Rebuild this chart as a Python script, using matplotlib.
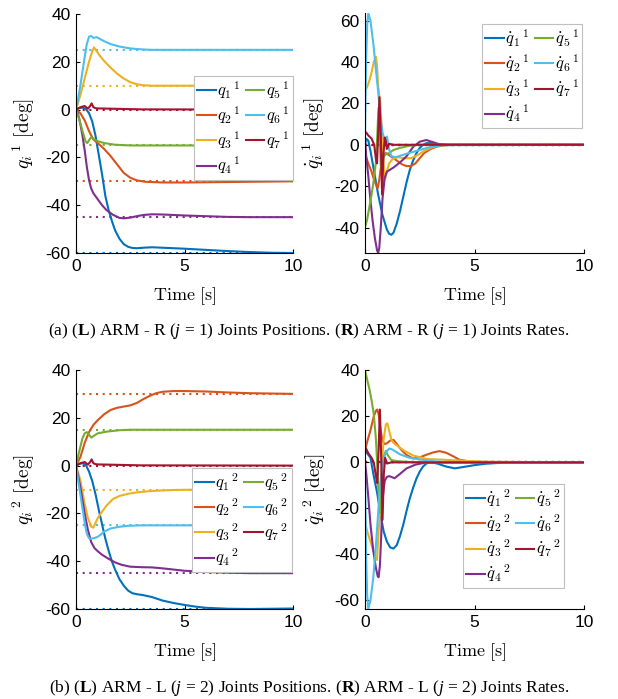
import numpy as np
import matplotlib
matplotlib.use("Agg")
import matplotlib.pyplot as plt
from matplotlib.font_manager import FontProperties

plt.rcParams['font.family'] = 'Liberation Sans'
plt.rcParams['mathtext.fontset'] = 'cm'
plt.rcParams['mathtext.rm'] = 'Liberation Serif'
plt.rcParams['mathtext.it'] = 'Liberation Serif:italic'
plt.rcParams['mathtext.bf'] = 'Liberation Serif:bold'
plt.rcParams['axes.unicode_minus'] = False

# MATLAB default line colours, joints 1..7
colors = ['#0072BD', '#D95319', '#EDB120', '#7E2F8E', '#77AC30', '#4DBEEE', '#A2142F']

# ---------------------------------------------------------------- ARM-R positions [deg]
tq1_R = [0, 0.15, 0.3, 0.45, 0.6, 0.75, 0.9, 1.05, 1.2, 1.35, 1.5, 1.65, 1.8, 2.0, 2.2, 2.4, 2.6, 2.8, 3.1, 3.5, 4, 5, 6, 7, 8, 9, 10]
q1_R = [0, 0.6, 0.8, 0.3, -1.5, -5, -11, -19, -27, -36, -42, -46.5, -50.5, -54, -56.3, -57.4, -57.9, -58, -57.8, -57.6, -57.8, -58.2, -58.7, -59.2, -59.6, -59.9, -60]
tq2_R = [0, 0.2, 0.4, 0.6, 0.8, 1.0, 1.3, 1.6, 1.9, 2.2, 2.5, 2.8, 3.2, 4, 5, 6, 8, 10]
q2_R = [0, -1.5, -4.5, -9, -12.5, -14, -16.5, -19.5, -23, -26.5, -28.5, -29.6, -30.2, -30.5, -30.5, -30.4, -30.2, -30]
tq3_R = [0, 0.2, 0.4, 0.6, 0.75, 0.83, 0.95, 1.1, 1.3, 1.6, 1.9, 2.2, 2.5, 2.8, 3.1, 3.5, 4, 10]
q3_R = [0, 6, 13, 20, 24.5, 26, 24.5, 22.5, 20.3, 17.5, 15, 13, 11.5, 10.6, 10.2, 10, 10, 10]
tq4_R = [0, 0.1, 0.2, 0.3, 0.4, 0.5, 0.6, 0.7, 0.8, 1.0, 1.2, 1.4, 1.7, 2.0, 2.2, 2.5, 2.8, 3.1, 3.5, 4, 5, 6, 7, 8, 10]
q4_R = [0, -2, -6, -11, -17, -24, -29.5, -33, -35, -37.5, -40, -42, -44, -45.3, -45.5, -45.2, -44.6, -44.1, -43.8, -43.9, -44.3, -44.6, -44.9, -45, -45]
tq5_R = [0, 0.15, 0.3, 0.45, 0.52, 0.6, 0.7, 0.85, 1.0, 1.3, 1.8, 2.5, 10]
q5_R = [0, -4, -9, -13.5, -14, -12.8, -11.5, -12.5, -13.2, -14, -14.7, -15, -15]
tq6_R = [0, 0.1, 0.2, 0.3, 0.4, 0.5, 0.6, 0.7, 0.8, 0.95, 1.1, 1.3, 1.6, 2.0, 2.5, 3.0, 3.5, 10]
q6_R = [0, 4.5, 10, 16, 22, 27.5, 30.5, 30.8, 30, 30.3, 29.6, 28.6, 27.4, 26.4, 25.6, 25.2, 25, 25]
tq7_R = [0, 0.2, 0.4, 0.55, 0.65, 0.72, 0.8, 0.9, 1.0, 1.5, 2, 3, 10]
q7_R = [0, 1, 1.5, 0.4, 1.5, 2.6, 1.0, 0.6, 0.5, 0.4, 0.3, 0.1, 0]
ref_R = [-60, -30, 10, -45, -15, 25, 0]

# ---------------------------------------------------------------- ARM-R rates [deg/s]
tdq1_R = [0, 0.05, 0.15, 0.25, 0.4, 0.6, 0.8, 1.0, 1.1, 1.2, 1.3, 1.45, 1.6, 1.75, 1.9, 2.05, 2.2, 2.35, 2.5, 2.65, 2.8, 3.0, 3.3, 3.7, 4.5, 10]
dq1_R = [0, 3, 2, -3, -12, -24, -34, -41, -43, -43.5, -42.5, -38, -32, -25, -18, -12, -7.5, -4, -1.5, 0, 0.8, 0.8, 0.4, 0.1, 0, 0]
tdq2_R = [0, 0.05, 0.15, 0.3, 0.45, 0.58, 0.65, 0.75, 0.85, 0.95, 1.1, 1.3, 1.5, 1.7, 1.9, 2.1, 2.3, 2.5, 2.7, 3.0, 3.3, 3.7, 4.2, 10]
dq2_R = [0, -6, -9, -13, -18, -21, -17, -9, -5, -4, -5, -6.5, -8, -9.5, -10.3, -10.3, -9, -6.5, -4, -2, -0.8, -0.2, 0, 0]
tdq3_R = [0, 0.1, 0.2, 0.3, 0.4, 0.5, 0.55, 0.6, 0.65, 0.7, 0.75, 0.8, 0.85, 0.92, 1.0, 1.1, 1.25, 1.5, 1.8, 2.1, 2.4, 2.7, 3.0, 3.3, 3.7, 10]
dq3_R = [26, 28, 31, 35, 40, 42.5, 38, 28, 24, 20, 10, 0, -9, -16.5, -13, -9, -7, -6, -6.5, -6.5, -5, -3, -1.5, -0.5, 0, 0]
tdq4_R = [0, 0.05, 0.15, 0.25, 0.35, 0.45, 0.55, 0.6, 0.65, 0.72, 0.8, 0.9, 1.0, 1.15, 1.3, 1.6, 1.9, 2.2, 2.5, 2.8, 3.1, 3.4, 3.8, 10]
dq4_R = [2, -5, -15, -27, -37, -45, -51, -52.3, -50, -40, -26, -16, -13, -12, -11, -8.5, -5.5, -1, 1.5, 2.3, 1.3, 0.2, 0, 0]
tdq5_R = [0, 0.1, 0.2, 0.3, 0.4, 0.5, 0.55, 0.6, 0.63, 0.67, 0.72, 0.78, 0.85, 0.95, 1.1, 1.3, 1.6, 2.0, 2.5, 10]
dq5_R = [-40, -36, -30, -24, -17, -8, 2, 14, 18, 6, -10, -12, -6, -4.5, -4, -2.5, -1.5, -0.5, 0, 0]
tdq6_R = [0, 0.05, 0.1, 0.15, 0.25, 0.4, 0.5, 0.6, 0.7, 0.8, 0.9, 1.0, 1.1, 1.2, 1.4, 1.7, 2.0, 2.5, 3.0, 3.5, 10]
dq6_R = [5, 40, 58, 63.6, 60, 47, 36, 26, 14, 6, 2, 4, -2, -5.5, -6, -5, -4, -2.5, -1, -0.2, 0]
tdq7_R = [0, 0.05, 0.15, 0.3, 0.42, 0.5, 0.55, 0.6, 0.66, 0.72, 0.78, 0.84, 0.9, 0.95, 1.0, 1.1, 1.3, 10]
dq7_R = [5.5, 6, 4.5, 3, 0, -7, -9, 5, 23, 5, -24, -5, 3.5, 2, -2, 0.5, 0, 0]

# ---------------------------------------------------------------- ARM-L positions [deg]
tq1_L = [0, 0.15, 0.3, 0.45, 0.6, 0.75, 0.9, 1.05, 1.2, 1.35, 1.5, 1.65, 1.8, 2.0, 2.2, 2.4, 2.6, 2.8, 3.1, 3.5, 4.0, 4.5, 5, 5.5, 6, 7, 8, 10]
q1_L = [0, 0.7, 1, 0.3, -2.5, -6.5, -12, -18.5, -24.5, -30.5, -35.5, -40, -43.5, -47.5, -50.2, -52.3, -53.4, -53.8, -54.2, -55, -56.5, -57.5, -58.3, -59, -59.5, -59.9, -60, -59.8]
tq2_L = [0, 0.2, 0.4, 0.6, 0.8, 1.0, 1.3, 1.6, 1.9, 2.2, 2.5, 2.8, 3.1, 3.4, 3.7, 4.0, 4.5, 5, 6, 7, 8, 10]
q2_L = [0, 3.5, 9.5, 14, 17, 19, 21.5, 23.3, 24.2, 24.7, 25.2, 26.2, 27.8, 29.2, 30.3, 30.9, 31.2, 31.2, 31, 30.6, 30.3, 30]
tq3_L = [0, 0.2, 0.4, 0.55, 0.7, 0.8, 0.9, 1.0, 1.2, 1.4, 1.7, 2.0, 2.4, 2.8, 3.5, 4.5, 6, 10]
q3_L = [0, -6, -16, -22, -25.5, -26, -24, -22, -19.3, -16.8, -14, -12.7, -11.8, -11.2, -10.6, -10.2, -10, -10]
tq4_L = [0, 0.2, 0.4, 0.55, 0.7, 0.85, 1.0, 1.2, 1.5, 1.8, 2.1, 2.5, 3.0, 3.5, 4.0, 4.5, 5, 6, 7, 8, 10]
q4_L = [0, -9, -20, -27, -32, -34.5, -35.8, -37.3, -39, -40.5, -41.5, -42.3, -42.5, -42.6, -43, -43.5, -44, -44.5, -44.8, -45, -45]
tq5_L = [0, 0.15, 0.3, 0.4, 0.5, 0.6, 0.7, 0.8, 1.0, 1.4, 2.0, 2.5, 10]
q5_L = [0, 6, 11.5, 13.5, 14, 13, 11.7, 12.3, 13.5, 14.2, 14.8, 15, 15]
tq6_L = [0, 0.1, 0.2, 0.3, 0.4, 0.5, 0.6, 0.7, 0.85, 1.0, 1.15, 1.3, 1.6, 2.0, 2.4, 3.0, 10]
q6_L = [0, -6, -12, -18, -24, -28.5, -30.4, -30.6, -30.3, -29.8, -28.8, -27.6, -26.3, -25.6, -25.2, -25, -25]
tq7_L = [0, 0.2, 0.4, 0.55, 0.65, 0.72, 0.8, 0.9, 1.0, 1.5, 2, 3, 10]
q7_L = [0, 1, 1.5, 0.4, 1.5, 2.6, 1.0, 0.6, 0.5, 0.4, 0.3, 0.1, 0]
ref_L = [-60, 30, -10, -45, 15, -25, 0]

# ---------------------------------------------------------------- ARM-L rates [deg/s]
tdq1_L = [0, 0.1, 0.25, 0.4, 0.55, 0.7, 0.85, 1.0, 1.15, 1.3, 1.45, 1.6, 1.75, 1.9, 2.05, 2.2, 2.35, 2.5, 2.65, 2.8, 3.0, 3.3, 3.7, 4.1, 4.5, 5, 5.5, 6.5, 10]
dq1_L = [5, 4, 2, -6, -13, -22, -30, -34.5, -37, -37.5, -36, -32, -27, -21, -15.5, -11, -7, -4, -1.8, -0.5, 0, -0.5, -1.8, -2.6, -2, -1.2, -0.6, 0, 0]
tdq2_L = [0, 0.1, 0.25, 0.4, 0.5, 0.56, 0.62, 0.7, 0.8, 0.9, 1.0, 1.15, 1.3, 1.45, 1.7, 1.9, 2.2, 2.5, 2.8, 3.1, 3.4, 3.7, 4.0, 4.3, 4.8, 10]
dq2_L = [5, 9, 14, 20, 22.5, 23, 21, 15, 9, 8, 8.3, 9.5, 9.8, 8, 5, 3.2, 1.7, 2.2, 3.3, 4.3, 4.9, 4.2, 2.8, 1.2, 0.3, 0]
tdq3_L = [0, 0.1, 0.2, 0.3, 0.4, 0.5, 0.55, 0.62, 0.7, 0.78, 0.85, 0.95, 1.02, 1.1, 1.2, 1.3, 1.5, 1.8, 2.2, 2.8, 3.5, 4.5, 5.5, 7, 10]
dq3_L = [-26, -30, -33, -36, -39, -42, -42.5, -30, -20, 0, 10, 16.5, 17, 14, 10, 8.5, 7, 5, 3, 1.5, 1.2, 0.7, 0.2, 0, 0]
tdq4_L = [0, 0.05, 0.15, 0.25, 0.38, 0.5, 0.58, 0.62, 0.68, 0.74, 0.8, 0.9, 1.0, 1.1, 1.2, 1.35, 1.6, 1.9, 2.3, 2.8, 10]
dq4_L = [0, -4, -15, -27, -38.6, -46, -49.5, -50, -45, -32, -16, -8, -6.3, -6, -6.3, -6.9, -5, -2.6, -1, 0, 0]
tdq5_L = [0, 0.1, 0.2, 0.3, 0.4, 0.5, 0.58, 0.65, 0.7, 0.75, 0.8, 0.88, 0.95, 1.05, 1.2, 1.5, 2, 3, 10]
dq5_L = [40, 36, 32, 27, 21, 10, -5, -20, -22, -10, 0, 3, 5, 3, 1, 0.5, 0.2, 0, 0]
tdq6_L = [0, 0.05, 0.1, 0.15, 0.25, 0.38, 0.5, 0.6, 0.7, 0.8, 0.9, 1.0, 1.1, 1.2, 1.35, 1.6, 2.0, 2.5, 3.0, 3.5, 10]
dq6_L = [-5, -40, -58, -63.8, -60, -50, -36, -22, -9, -1, 3, 5, 6, 5.8, 5, 3.5, 2.1, 1.3, 0.6, 0.2, 0]
tdq7_L = [0, 0.05, 0.15, 0.3, 0.4, 0.5, 0.56, 0.62, 0.68, 0.74, 0.8, 0.86, 0.92, 1.0, 1.2, 10]
dq7_L = [6, 6, 4, 2, 0, -6, -9, 5, 23, 2, -25, -5, 2, -0.5, 0, 0]
ref_rate = [0, 0, 0, 0, 0, 0, 0]

pos_lbl_R = [r'${q_%d}^{\,1}$' % i for i in range(1, 8)]
rate_lbl_R = [r'${\dot{q}_%d}^{\,1}$' % i for i in range(1, 8)]
pos_lbl_L = [r'${q_%d}^{\,2}$' % i for i in range(1, 8)]
rate_lbl_L = [r'${\dot{q}_%d}^{\,2}$' % i for i in range(1, 8)]


def panel(ax, ts, vs, refs, labels, ylim, yticks, ylabel, leg_xy, ylab_x):
    for r, c in zip(refs, colors):
        ax.axhline(r, color=c, lw=1.5, ls=(0, (1, 2.2)), zorder=1)
    hs = []
    for t, v, c in zip(ts, vs, colors):
        h, = ax.plot(t, v, color=c, lw=1.5, zorder=2)
        hs.append(h)
    ax.set_xlim(0, 10)
    ax.set_ylim(*ylim)
    ax.set_xticks([0, 5, 10])
    ax.set_yticks(yticks)
    ax.spines['top'].set_visible(False)
    ax.spines['right'].set_visible(False)
    for s in ('left', 'bottom'):
        ax.spines[s].set_linewidth(0.8)
    ax.tick_params(direction='in', length=3, width=0.8, labelsize=12.5, pad=4)
    ax.set_xlabel(r'$\mathrm{Time\ [s]}$', fontsize=13)
    ax.xaxis.set_label_coords(0.5, -0.135)
    ax.set_ylabel(ylabel, fontsize=14)
    ax.yaxis.set_label_coords(ylab_x, 0.5)
    leg = ax.legend(hs, labels, ncol=2, loc='upper left', bbox_to_anchor=leg_xy,
                    borderaxespad=0, fancybox=False, edgecolor='#bfbfbf', framealpha=1,
                    handlelength=1.1, handletextpad=0.1, columnspacing=0.3,
                    labelspacing=0.2, borderpad=0.2,
                    prop=FontProperties(size=12, math_fontfamily='cm'))
    leg.get_frame().set_linewidth(0.8)


fig = plt.figure(figsize=(6.18, 6.99), dpi=100)
W, H = 618.0, 699.0
ax_tl = fig.add_axes([76 / W, 1 - 253 / H, 217 / W, 239 / H])
ax_tr = fig.add_axes([365 / W, 1 - 253 / H, 219 / W, 240 / H])
ax_bl = fig.add_axes([76 / W, 1 - 609 / H, 217 / W, 239 / H])
ax_br = fig.add_axes([365 / W, 1 - 609 / H, 219 / W, 239 / H])

panel(ax_tl, [tq1_R, tq2_R, tq3_R, tq4_R, tq5_R, tq6_R, tq7_R],
      [q1_R, q2_R, q3_R, q4_R, q5_R, q6_R, q7_R], ref_R, pos_lbl_R,
      (-60, 40), [-60, -40, -20, 0, 20, 40], r'${q_i}^{\,1}\ \mathrm{[deg]}$', (0.544, 0.741), -0.18)
panel(ax_tr, [tdq1_R, tdq2_R, tdq3_R, tdq4_R, tdq5_R, tdq6_R, tdq7_R],
      [dq1_R, dq2_R, dq3_R, dq4_R, dq5_R, dq6_R, dq7_R], ref_rate, rate_lbl_R,
      (-52.3, 63.7), [-40, -20, 0, 20, 40, 60], r'${\dot{q}_i}^{\,1}\ \mathrm{[deg]}$', (0.534, 0.954), -0.174)
panel(ax_bl, [tq1_L, tq2_L, tq3_L, tq4_L, tq5_L, tq6_L, tq7_L],
      [q1_L, q2_L, q3_L, q4_L, q5_L, q6_L, q7_L], ref_L, pos_lbl_L,
      (-60, 40), [-60, -40, -20, 0, 20, 40], r'${q_i}^{\,2}\ \mathrm{[deg]}$', (0.535, 0.59), -0.18)
panel(ax_br, [tdq1_L, tdq2_L, tdq3_L, tdq4_L, tdq5_L, tdq6_L, tdq7_L],
      [dq1_L, dq2_L, dq3_L, dq4_L, dq5_L, dq6_L, dq7_L], ref_rate, rate_lbl_L,
      (-63.8, 40.2), [-60, -40, -20, 0, 20, 40], r'${\dot{q}_i}^{\,2}\ \mathrm{[deg]}$', (0.447, 0.523), -0.17)

cap_a = r'(a) ($\mathbf{L}$) ARM - R ($j$ = 1) Joints Positions. ($\mathbf{R}$) ARM - R ($j$ = 1) Joints Rates.'
cap_b = r'(b) ($\mathbf{L}$) ARM - L ($j$ = 2) Joints Positions. ($\mathbf{R}$) ARM - L ($j$ = 2) Joints Rates.'
fig.text(0.5, 1 - 331 / H, cap_a, ha='center', va='center', fontsize=12.5,
         family='Liberation Serif', math_fontfamily='custom')
fig.text(0.5, 1 - 688 / H, cap_b, ha='center', va='center', fontsize=12.5,
         family='Liberation Serif', math_fontfamily='custom')

fig.savefig('out.png', dpi=100)
